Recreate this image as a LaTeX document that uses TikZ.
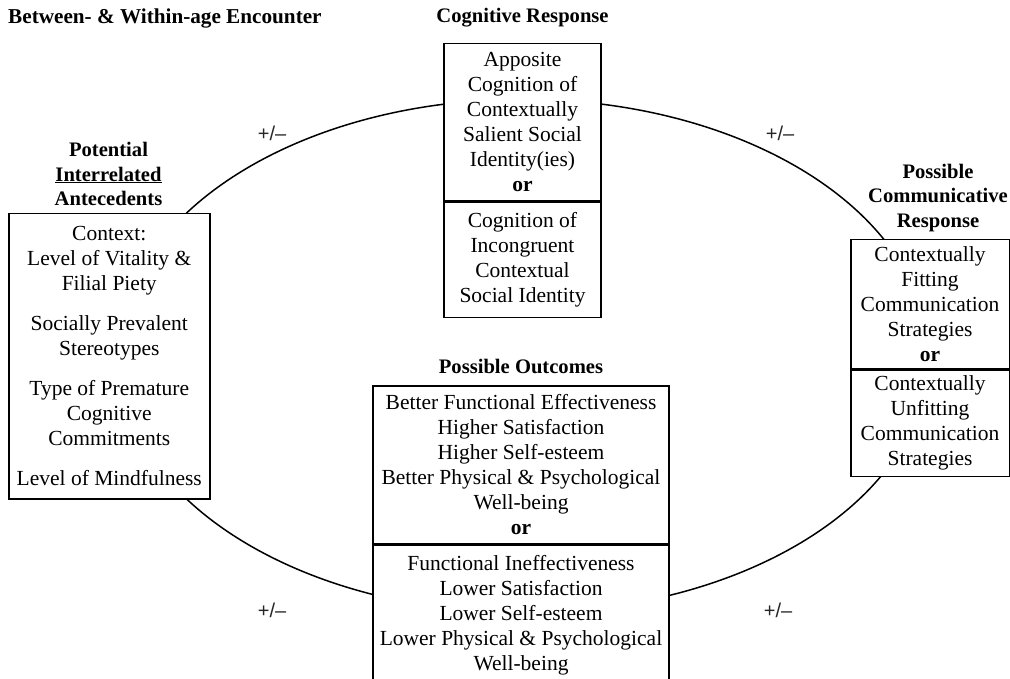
\documentclass[tikz,border=0pt]{standalone}
\usepackage{fontspec}
\setmainfont{Liberation Serif}
\newfontfamily\signfont{Liberation Sans}
\usetikzlibrary{positioning}

\tikzset{
    box/.style={draw, line width=1.5pt, fill=white, align=center, inner sep=0pt,
        font=\fontsize{21.5}{25}\selectfont},
    head/.style={align=center, inner sep=0pt, font=\fontsize{20.6}{24.5}\selectfont\bfseries},
    sign/.style={inner sep=0pt, text=black!85, font=\fontsize{20}{24}\selectfont\signfont}
}

\begin{document}
\begin{tikzpicture}[x=1pt, y=-1pt]
    \useasboundingbox (0,0) rectangle (1010,679);

    % Ring behind the boxes
    \coordinate (mid) at (523,356);
    \draw[line width=1.5pt] (mid) ellipse [x radius=405pt, y radius=256.7pt];

    % Titles
    \node[head, anchor=west, font=\fontsize{21.2}{24.5}\selectfont\bfseries] (enc) at (8,18) {Between- \& Within-age Encounter};
    \node[head] (cogt) at (522.5,18) {Cognitive Response};

    % Cognitive response
    \node[box, minimum width=157pt, minimum height=157pt, anchor=north] (cogA) at (522.5,43)
        {Apposite\\Cognition of\\Contextually\\Salient Social\\Identity(ies)\\\textbf{or}};
    \node[box, minimum width=157pt, minimum height=115pt, anchor=north] (cogB) at (cogA.south)
        {Cognition of\\Incongruent\\Contextual\\Social Identity};

    % Antecedents
    \node[head] (antt) at (108.5,174) {Potential\\\underline{Interrelated}\\Antecedents};
    \node[box, minimum width=201pt, minimum height=285pt, anchor=north west] (ant) at (8,213)
        {Context:\\Level of Vitality \&\\Filial Piety\\[15pt]Socially Prevalent\\Stereotypes\\[15pt]Type of Premature\\Cognitive\\Commitments\\[15pt]Level of Mindfulness};

    % Communicative response
    \node[head] (comt) at (938,198) {Possible\\Communicative\\Response};
    \node[box, minimum width=158.5pt, minimum height=129pt, anchor=north west] (comA) at (850,239)
        {Contextually\\Fitting\\Communication\\Strategies\\\textbf{or}};
    \node[box, minimum width=158.5pt, minimum height=106pt, anchor=north] (comB) at (comA.south)
        {Contextually\\Unfitting\\Communication\\Strategies};

    % Outcomes
    \node[head] (outt) at (521,366) {Possible Outcomes};
    \node[box, minimum width=296pt, minimum height=158pt, anchor=north] (outA) at (521,385)
        {Better Functional Effectiveness\\Higher Satisfaction\\Higher Self-esteem\\Better Physical \& Psychological\\Well-being\\\textbf{or}};
    \node[box, minimum width=296pt, minimum height=140pt, anchor=north] (outB) at (outA.south)
        {Functional Ineffectiveness\\Lower Satisfaction\\Lower Self-esteem\\Lower Physical \& Psychological\\Well-being};

    % Signs on the ring
    \foreach \x/\y [count=\i] in {272/133, 780/133, 272/610, 778/610}
        \node[sign] (pm\i) at (\x,\y) {+/–};
\end{tikzpicture}
\end{document}
